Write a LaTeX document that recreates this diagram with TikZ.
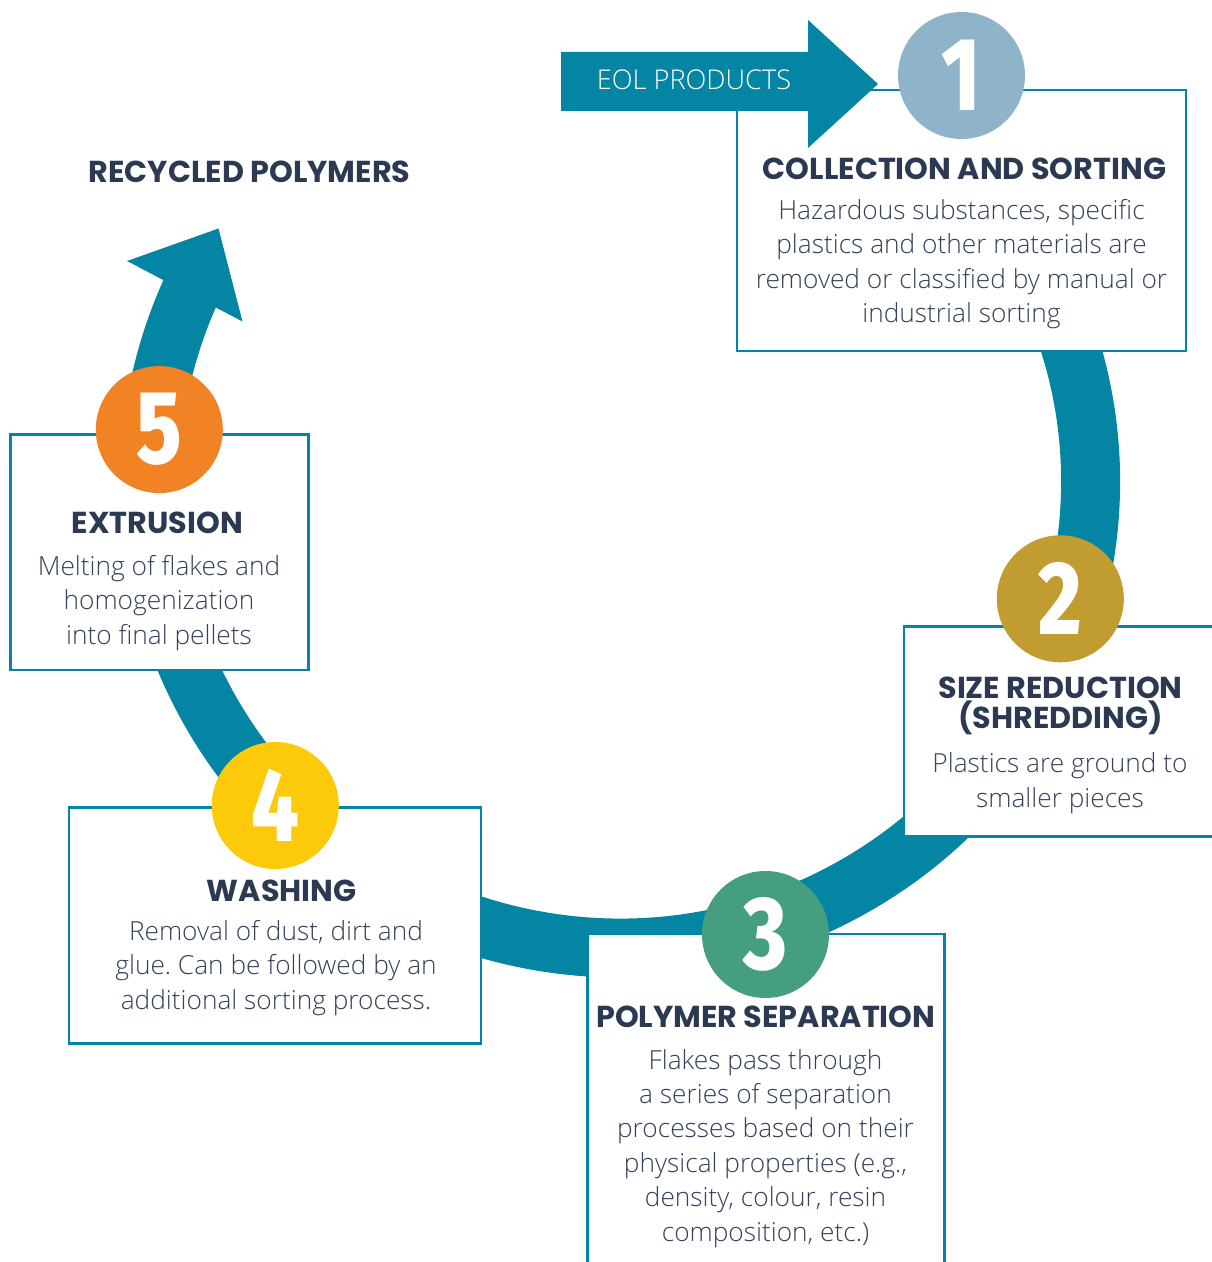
\documentclass[tikz,border=0pt]{standalone}
\usepackage{fontspec}
\usepackage{graphicx}
\setmainfont{Open Sans}
\IfFontExistsTF{Open Sans Light}{\newfontfamily\thinfont{Open Sans Light}}{\newfontfamily\thinfont{Open Sans}}
\newfontfamily\headfont{Poppins}
\IfFontExistsTF{Fira Sans ExtraBold}{\newfontfamily\digitfont{Fira Sans ExtraBold}}{\newfontfamily\digitfont{Fira Sans}[UprightFont=*-Bold]}
\definecolor{ringteal}{RGB}{4,133,163}
\definecolor{headnavy}{RGB}{43,58,82}
\definecolor{bodynavy}{RGB}{52,66,90}
\definecolor{badgeblue}{RGB}{143,180,201}
\definecolor{badgegold}{RGB}{193,157,49}
\definecolor{badgegreen}{RGB}{69,158,128}
\definecolor{badgeyellow}{RGB}{252,202,10}
\definecolor{badgeorange}{RGB}{242,131,36}
\tikzset{every picture/.style={line width=0.75pt}}
\frenchspacing

\begin{document}
\begin{tikzpicture}[x=0.75pt,y=0.75pt,yscale=-1,xscale=1,
  stepbox/.style={draw=ringteal, line width=1.9pt, fill=white, inner sep=0pt},
  badge/.style={circle, inner sep=0pt, minimum size=95.25pt, text=white,
    font=\digitfont\fontsize{78}{78}\selectfont},
  heading/.style={text=headnavy, align=center, inner sep=0pt, anchor=base,
    font=\headfont\bfseries\fontsize{22.7}{22.5}\selectfont},
  blurb/.style={text=bodynavy, align=center, inner sep=0pt, anchor=base,
    font=\thinfont\fontsize{19.7}{25.8}\selectfont}]
\clip (0,0) rectangle (1212,1262);

%the cycle, ending in the head near the top left
\coordinate (ringstart) at (1027.5,249);
\coordinate (headl) at (127,261);
\coordinate (headtip) at (218.5,228.5);
\coordinate (headr) at (242.5,321.5);
\draw [ringteal, line width=44.25pt]
  (ringstart) arc [start angle=-30, end angle=205, x radius=470.5, y radius=466];
\fill [ringteal] (headl) -- (headtip) -- (headr) -- cycle;

%step boxes
\node [stepbox, minimum width=336.75pt, minimum height=195.75pt] (box1) at (961.5,220.5) {};
\node [stepbox, minimum width=244.5pt, minimum height=157.5pt] (box2) at (1067,731.5) {};
\node [stepbox, minimum width=267.75pt, minimum height=267pt] (box3) at (766,1112) {};
\node [stepbox, minimum width=308.8pt, minimum height=177pt] (box4) at (275,925.3) {};
\node [stepbox, minimum width=223.2pt, minimum height=176.7pt] (box5) at (159.5,552.2) {};

%input arrow
\fill [ringteal] (561,52) -- (808,52) -- (808,20) -- (878,84) -- (808,148) -- (808,111) -- (561,111) -- cycle;
\node [text=white, inner sep=0pt, font=\thinfont\fontsize{20.4}{22}\selectfont] (eol) at (694,80) {EOL PRODUCTS};

%badges
\node [badge, fill=badgeblue] (n1) at (961.5,75.5) {\scalebox{0.8}[1]{1}};
\node [badge, fill=badgegold] (n2) at (1060.3,598.8) {\scalebox{0.8}[1]{2}};
\node [badge, fill=badgegreen] (n3) at (765.5,934.5) {\scalebox{0.8}[1]{3}};
\node [badge, fill=badgeyellow] (n4) at (275.3,805.5) {\scalebox{0.8}[1]{4}};
\node [badge, fill=badgeorange] (n5) at (159.3,429.6) {\scalebox{0.8}[1]{5}};

%titles (base = last line)
\node [heading] (out) at (249.6,183) {RECYCLED POLYMERS};
\node [heading] (t1) at (964.5,179.3) {COLLECTION AND SORTING};
\node [heading] (t2) at (1060.5,728) {SIZE REDUCTION\\(SHREDDING)};
\node [heading] (t3) at (765.8,1027.3) {POLYMER SEPARATION};
\node [heading] (t4) at (281.7,901.7) {WASHING};
\node [heading] (t5) at (157.5,533) {EXTRUSION};

%descriptions
\node [blurb] (d1) at (961.5,322.5) {Hazardous substances, specific\\plastics and other materials are\\removed or classified by manual or\\industrial sorting};
\node [blurb] (d2) at (1060,807.3) {Plastics are ground to\\smaller pieces};
\node [blurb] (d3) at (765.5,1241) {Flakes pass through\\a series of separation\\processes based on their\\physical properties (e.g.,\\density, colour, resin\\composition, etc.)};
\node [blurb] (d4) at (276,1009.3) {Removal of dust, dirt and\\glue. Can be followed by an\\additional sorting process.};
\node [blurb] (d5) at (159,644.1) {Melting of flakes and\\homogenization\\into final pellets};

\end{tikzpicture}
\end{document}
